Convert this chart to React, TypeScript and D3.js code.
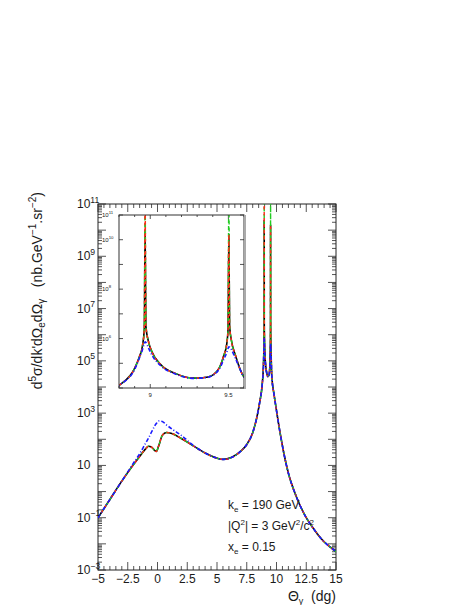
import React from 'react';
import * as d3 from 'd3';

// ---- data ----
const theta = [-5, -4, -3, -2, -1.5, -1, -0.75, -0.5, -0.25, -0.1, 0.1, 0.4, 0.75, 1.2, 2, 3, 4, 5, 5.5, 6.2, 7, 7.5, 8, 8.4, 8.6, 8.8, 8.9, 8.93, 8.95, 8.962, 8.967, 8.972, 8.99, 9.01, 9.07, 9.16, 9.28, 9.37, 9.44, 9.47, 9.49, 9.498, 9.503, 9.508, 9.52, 9.545, 9.6, 9.8, 10, 10.3, 10.6, 11, 11.5, 12, 12.5, 13, 13.5, 14, 14.5, 15];

const sigmaBlack = [0.1, 0.5, 2.5, 11, 22, 43, 54, 50, 38, 34, 56, 141, 182, 166, 107, 56, 30, 19, 17, 20, 35, 63, 178, 890, 2800, 1.26e4, 6.2e4, 1.8e5, 5e5, 2.5e6, 2.5e10, 3.2e6, 7e5, 3e5, 8.5e4, 3.9e4, 2.5e4, 2.8e4, 6.2e4, 2e5, 6.3e5, 2.5e6, 1.6e10, 3.2e6, 8e5, 2.1e5, 2.8e4, 5000, 1260, 178, 32, 5, 1, 0.28, 0.1, 0.045, 0.022, 0.012, 0.0076, 0.005];

const sigmaRed = [0.1, 0.5, 2.5, 11, 22, 43, 54, 50, 38, 34, 56, 141, 182, 166, 107, 56, 30, 19, 17, 20, 35, 63, 178, 890, 2800, 1.26e4, 6.2e4, 1.8e5, 5e5, 2.5e6, 1e12, 3.2e6, 7e5, 3e5, 8.5e4, 3.9e4, 2.5e4, 2.8e4, 6.2e4, 2e5, 6.3e5, 2.5e6, 1.6e10, 3.2e6, 8e5, 2.1e5, 2.8e4, 5000, 1260, 178, 32, 5, 1, 0.28, 0.1, 0.045, 0.022, 0.012, 0.0076, 0.005];

const sigmaGreen = [0.1, 0.5, 2.5, 11, 22, 43, 54, 50, 38, 34, 56, 141, 182, 166, 107, 56, 30, 19, 17, 20, 35, 63, 178, 890, 2800, 1.26e4, 6.2e4, 1.8e5, 5e5, 2.5e6, 1e12, 3.2e6, 7e5, 3e5, 8.5e4, 3.9e4, 2.5e4, 2.8e4, 6.2e4, 2e5, 6.3e5, 2.5e6, 1e12, 3.2e6, 8e5, 2.1e5, 2.8e4, 5000, 1260, 178, 32, 5, 1, 0.28, 0.1, 0.045, 0.022, 0.012, 0.0076, 0.005];

const sigmaBlue = [0.1, 0.5, 2.5, 12.6, 28, 71, 112, 190, 316, 400, 500, 480, 355, 250, 141, 59, 30, 19, 17, 20, 35, 63, 178, 890, 2800, 1.26e4, 5.6e4, 1.6e5, 3.5e5, 6.3e5, 7.4e5, 7e5, 4e5, 2.2e5, 7.6e4, 3.7e4, 2.45e4, 2.75e4, 5.6e4, 1.4e5, 2.8e5, 4e5, 4.7e5, 4.5e5, 3.5e5, 1.6e5, 2.8e4, 5000, 1260, 178, 32, 5, 1, 0.28, 0.1, 0.045, 0.022, 0.012, 0.0076, 0.005];

const xTickValues = [-5, -2.5, 0, 2.5, 5, 7.5, 10, 12.5, 15];
const xTickLabels = ['\u22125', '\u22122.5', '0', '2.5', '5', '7.5', '10', '12.5', '15'];
const yLabelExponents = [-3, -1, 1, 3, 5, 7, 9, 11];
const insetXTickValues = [9, 9.5];
const insetXTickLabels = ['9', '9.5'];
const insetYLabelExponents = [11, 10, 8, 6];

const series = [
  { name: 'black', values: sigmaBlack, color: '#000000', dash: '', width: 1.6 },
  { name: 'green', values: sigmaGreen, color: '#22cc22', dash: '4,3', width: 1.4 },
  { name: 'red', values: sigmaRed, color: '#ff2a1a', dash: '3,3', width: 1.4 },
  { name: 'blue', values: sigmaBlue, color: '#1a1aff', dash: '4,2,1,2', width: 1.6 },
];

const FONT = '"Liberation Sans", Arial, Helvetica, sans-serif';
const TXT = '#1a1a1a';

function Pow10({ x, y, exp, size }: { x: number; y: number; exp: number; size: number }) {
  const expStr = exp < 0 ? '\u2212' + Math.abs(exp) : String(exp);
  return (
    <text x={x} y={y} fontSize={size} fontFamily={FONT} fill={TXT}>
      <tspan>10</tspan>
      {exp !== 1 && (
        <tspan dy={-size * 0.45} fontSize={size * 0.72}>{expStr}</tspan>
      )}
    </text>
  );
}

export default function App() {
  const W = 468, H = 605;
  const L = 98, R = 336, T = 204, B = 570;
  const x = d3.scaleLinear().domain([-5, 15]).range([L, R]);
  const y = d3.scaleLog().domain([1e-3, 1e11]).range([B, T]);

  const iL = 119, iR = 244, iT = 215, iB = 388;
  const ix = d3.scaleLinear().domain([8.8, 9.6]).range([iL, iR]);
  const iy = d3.scaleLog().domain([1e4, 1e11]).range([iB, iT]);

  const mkLine = (xs: any, ys: any, vals: number[]) =>
    d3.line<number>()
      .x((_, i) => xs(theta[i]))
      .y((_, i) => ys(vals[i]))
      .curve(d3.curveMonotoneX)(vals) || '';

  const yMajor: number[] = [];
  const yMinor: number[] = [];
  for (let e = -3; e <= 11; e++) {
    yMajor.push(Math.pow(10, e));
    if (e < 11) for (let k = 2; k <= 9; k++) yMinor.push(k * Math.pow(10, e));
  }
  const xMinor: number[] = d3.range(-5, 15.001, 0.5);

  const iyMajor: number[] = [];
  for (let e = 4; e <= 11; e++) iyMajor.push(Math.pow(10, e));
  const ixMinor: number[] = d3.range(8.8, 9.601, 0.1);

  const tickColor = '#555';

  return (
    <svg width={W} height={H} style={{ position: 'absolute', left: 0, top: 0, background: '#fff' }}>
      <defs>
        <clipPath id="mainClip"><rect x={L} y={T} width={R - L} height={B - T} /></clipPath>
        <clipPath id="insetClip"><rect x={iL} y={iT} width={iR - iL} height={iB - iT} /></clipPath>
      </defs>
      <rect x={0} y={0} width={W} height={H} fill="#fff" />

      <g stroke={tickColor} strokeWidth={1}>
        {yMajor.map((v, i) => (
          <g key={'ym' + i}>
            <line x1={L} x2={L + 8} y1={y(v)} y2={y(v)} />
            <line x1={R} x2={R - 8} y1={y(v)} y2={y(v)} />
          </g>
        ))}
        {yMinor.map((v, i) => (
          <g key={'yn' + i}>
            <line x1={L} x2={L + 4} y1={y(v)} y2={y(v)} />
            <line x1={R} x2={R - 4} y1={y(v)} y2={y(v)} />
          </g>
        ))}
        {xMinor.map((v, i) => {
          const major = Math.abs(v / 2.5 - Math.round(v / 2.5)) < 1e-6;
          const len = major ? 8 : 4;
          return (
            <g key={'xt' + i}>
              <line x1={x(v)} x2={x(v)} y1={B} y2={B - len} />
              <line x1={x(v)} x2={x(v)} y1={T} y2={T + len} />
            </g>
          );
        })}
      </g>
      <rect x={L} y={T} width={R - L} height={B - T} fill="none" stroke="#222" strokeWidth={1} />

      <g clipPath="url(#mainClip)" fill="none">
        {series.map((s) => (
          <path key={s.name} d={mkLine(x, y, s.values)} stroke={s.color} strokeWidth={s.width} strokeDasharray={s.dash || undefined} />
        ))}
      </g>

      {yLabelExponents.map((e) => (
        <Pow10 key={'yl' + e} x={77} y={y(Math.pow(10, e)) + 4} exp={e} size={12} />
      ))}
      {xTickValues.map((v, i) => (
        <text key={'xl' + i} x={x(v)} y={B + 13} fontSize={12} fontFamily={FONT} fill={TXT} textAnchor="middle">{xTickLabels[i]}</text>
      ))}

      <text x={R} y={B + 31} fontSize={14} fontFamily={FONT} fill={TXT} textAnchor="end">
        <tspan>Θ</tspan><tspan dy={3} fontSize={9}>γ</tspan><tspan dy={-3}>{'\u00a0\u00a0(dg)'}</tspan>
      </text>
      <text transform={`translate(42,192) rotate(-90)`} fontSize={14} fontFamily={FONT} fill={TXT} textAnchor="end">
        <tspan>d</tspan><tspan dy={-6} fontSize={10}>5</tspan><tspan dy={6}>σ/dk'dΩ</tspan>
        <tspan dy={3} fontSize={10}>e</tspan><tspan dy={-3}>dΩ</tspan>
        <tspan dy={3} fontSize={10}>γ</tspan><tspan dy={-3}>{'\u00a0\u00a0\u00a0(nb.GeV'}</tspan>
        <tspan dy={-6} fontSize={10}>{'\u22121'}</tspan><tspan dy={6}>.sr</tspan>
        <tspan dy={-6} fontSize={10}>{'\u22122'}</tspan><tspan dy={6}>)</tspan>
      </text>

      <text x={228} y={509} fontSize={12} fontFamily={FONT} fill={TXT}>
        <tspan>k</tspan><tspan dy={3} fontSize={8}>e</tspan><tspan dy={-3}>{' = 190 GeV'}</tspan>
      </text>
      <text x={228} y={530} fontSize={12} fontFamily={FONT} fill={TXT}>
        <tspan>|Q</tspan><tspan dy={-5} fontSize={8}>2</tspan><tspan dy={5}>{'| = 3 GeV'}</tspan>
        <tspan dy={-5} fontSize={8}>2</tspan><tspan dy={5}>/c</tspan><tspan dy={-5} fontSize={8}>2</tspan>
      </text>
      <text x={228} y={551} fontSize={12} fontFamily={FONT} fill={TXT}>
        <tspan>x</tspan><tspan dy={3} fontSize={8}>e</tspan><tspan dy={-3}>{' = 0.15'}</tspan>
      </text>

      {/* inset */}
      <rect x={iL} y={iT} width={iR - iL} height={iB - iT} fill="#fff" />
      <g stroke={tickColor} strokeWidth={1}>
        {iyMajor.map((v, i) => (
          <g key={'iy' + i}>
            <line x1={iL} x2={iL + 4} y1={iy(v)} y2={iy(v)} />
            <line x1={iR} x2={iR - 4} y1={iy(v)} y2={iy(v)} />
          </g>
        ))}
        {ixMinor.map((v, i) => {
          const major = insetXTickValues.some((t) => Math.abs(t - v) < 1e-6);
          const len = major ? 4 : 2;
          return (
            <g key={'ix' + i}>
              <line x1={ix(v)} x2={ix(v)} y1={iB} y2={iB - len} />
              <line x1={ix(v)} x2={ix(v)} y1={iT} y2={iT + len} />
            </g>
          );
        })}
      </g>
      <g clipPath="url(#insetClip)" fill="none">
        {series.map((s) => (
          <path key={'i' + s.name} d={mkLine(ix, iy, s.values)} stroke={s.color} strokeWidth={s.width} strokeDasharray={s.dash || undefined} />
        ))}
      </g>
      <rect x={iL} y={iT} width={iR - iL} height={iB - iT} fill="none" stroke="#333" strokeWidth={1} />
      <line x1={iR + 1} x2={iR + 1} y1={iT} y2={iB + 1} stroke="#aaa" strokeWidth={2} />
      {insetYLabelExponents.map((e) => (
        <Pow10 key={'iyl' + e} x={102} y={iy(Math.pow(10, e)) + 2} exp={e} size={6} />
      ))}
      {insetXTickValues.map((v, i) => (
        <text key={'ixl' + i} x={ix(v)} y={iB + 9} fontSize={6} fontFamily={FONT} fill={TXT} textAnchor="middle">{insetXTickLabels[i]}</text>
      ))}
    </svg>
  );
}
